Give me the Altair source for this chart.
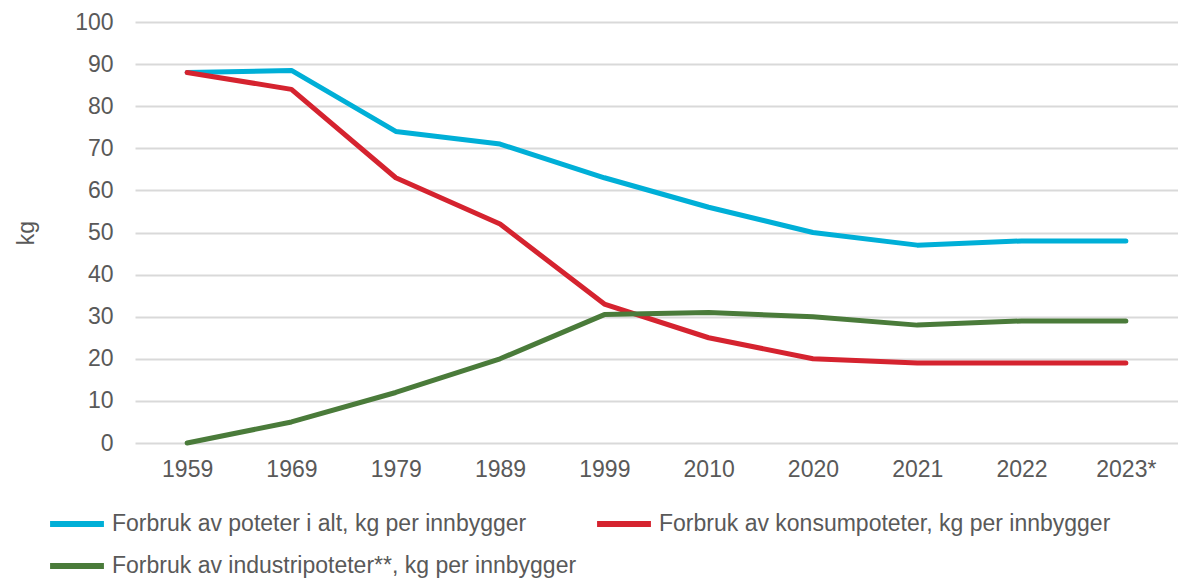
import altair as alt
import pandas as pd

years = ["1959", "1969", "1979", "1989", "1999", "2010", "2020", "2021", "2022", "2023*"]
total = [88, 88.5, 74, 71, 63, 56, 50, 47, 48, 48]
konsum = [88, 84, 63, 52, 33, 25, 20, 19, 19, 19]
industri = [0, 5, 12, 20, 30.5, 31, 30, 28, 29, 29]

series = [
    "Forbruk av poteter i alt, kg per innbygger",
    "Forbruk av konsumpoteter, kg per innbygger",
    "Forbruk av industripoteter**, kg per innbygger",
]
colors = ["#00AFD7", "#D5232F", "#4A7B3A"]

rows = []
for name, vals in zip(series, [total, konsum, industri]):
    for i, (y, v) in enumerate(zip(years, vals)):
        rows.append({"year": y, "value": v, "series": name, "order": i})
df = pd.DataFrame(rows)

FONT = "Liberation Sans"
GRAY = "#595959"

chart = alt.Chart(df).mark_line(strokeWidth=5, strokeCap="round", strokeJoin="round").encode(
    x=alt.X("year:O", sort=years, scale=alt.Scale(type="point", padding=0.5),
            axis=alt.Axis(title=None, labelAngle=0, labelFontSize=23, labelColor=GRAY,
                          labelFont=FONT, ticks=False, domain=False, labelPadding=15, grid=False)),
    y=alt.Y("value:Q", scale=alt.Scale(domain=[0, 100], nice=False),
            axis=alt.Axis(title="kg", values=list(range(0, 101, 10)), labelFontSize=23,
                          labelColor=GRAY, labelFont=FONT, ticks=False, domain=False,
                          labelPadding=22, gridColor="#D9D9D9", gridWidth=2,
                          titleFont=FONT, titleFontSize=23, titleColor=GRAY,
                          titleFontWeight="normal", titlePadding=36)),
    color=alt.Color("series:N", sort=series,
                    scale=alt.Scale(domain=series, range=colors),
                    legend=alt.Legend(title=None, orient="none", legendX=-88, legendY=472,
                                      columns=2, direction="horizontal",
                                      symbolType="stroke", symbolSize=2900,
                                      symbolStrokeWidth=6, labelFontSize=23,
                                      labelFont=FONT, labelColor=GRAY, labelOffset=5,
                                      columnPadding=8, rowPadding=0, labelLimit=600)),
    order="order:Q",
).properties(
    width=1043, height=421,
    autosize=alt.AutoSizeParams(type="none"),
    padding={"left": 127, "top": 14, "right": 0, "bottom": 136},
).configure_view(strokeWidth=0, stroke="transparent")

chart.save("out.html", embed_options={"renderer": "svg", "actions": False})
